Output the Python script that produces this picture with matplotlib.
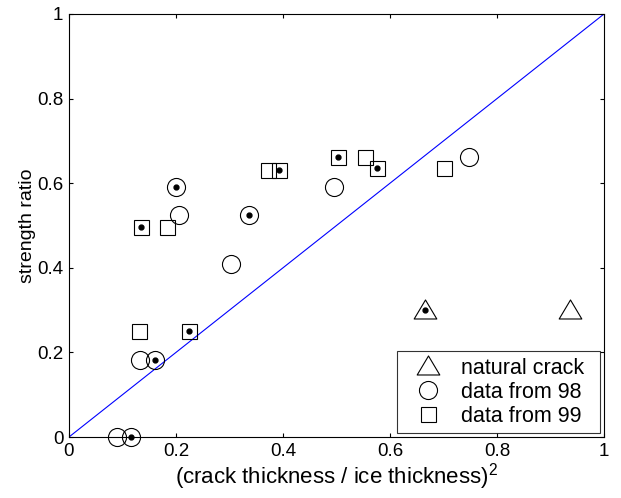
import matplotlib
matplotlib.use("Agg")
import matplotlib.pyplot as plt
from matplotlib.path import Path
import numpy as np

plt.rcParams['font.family'] = ['Liberation Sans', 'DejaVu Sans']
plt.rcParams['mathtext.fontset'] = 'custom'
plt.rcParams['mathtext.rm'] = 'Liberation Sans'

# natural crack
tri_x = [0.666, 0.937]
tri_y = [0.300, 0.300]
# data from 98
c98_x = [0.089, 0.116, 0.133, 0.161, 0.200, 0.205, 0.302, 0.336, 0.495, 0.747]
c98_y = [0.000, 0.000, 0.183, 0.183, 0.591, 0.526, 0.409, 0.526, 0.591, 0.663]
# data from 99
s99_x = [0.131, 0.225, 0.134, 0.184, 0.372, 0.393, 0.503, 0.554, 0.575, 0.700]
s99_y = [0.251, 0.251, 0.496, 0.496, 0.632, 0.632, 0.662, 0.662, 0.636, 0.636]
# dot markers
dot_x = [0.666, 0.116, 0.161, 0.200, 0.336, 0.225, 0.134, 0.393, 0.503, 0.575]
dot_y = [0.300, 0.000, 0.183, 0.591, 0.526, 0.251, 0.496, 0.632, 0.662, 0.636]
# reference line
line_x = [0, 1]
line_y = [0, 1]
ticks = [0, 0.2, 0.4, 0.6, 0.8, 1]
tick_labels = ['0', '0.2', '0.4', '0.6', '0.8', '1']

# MATLAB-like (wider) triangle marker
tri_marker = Path([(-1, -0.75), (1, -0.75), (0, 0.93), (-1, -0.75)],
                  [Path.MOVETO, Path.LINETO, Path.LINETO, Path.CLOSEPOLY])

fig = plt.figure(figsize=(6.21, 4.98), dpi=100)
ax = fig.add_axes([69/621, 1-437/498, 535/621, 423/498])

ax.plot(line_x, line_y, color=(0, 0, 1), lw=0.8, zorder=2)
lw = 0.8
h1, = ax.plot(tri_x, tri_y, ls='none', marker=tri_marker, ms=16.3, mfc='none', mec='k', mew=lw, label='natural crack', zorder=3)
h2, = ax.plot(c98_x, c98_y, ls='none', marker='o', ms=13, mfc='none', mec='k', mew=lw, label='data from 98', zorder=3, clip_on=False)
h3, = ax.plot(s99_x, s99_y, ls='none', marker='s', ms=10.8, mfc='none', mec='k', mew=lw, label='data from 99', zorder=3)
ax.plot(dot_x, dot_y, ls='none', marker='o', ms=3.5, mfc='k', mec='k', zorder=4, clip_on=False)

ax.set_xlim(0, 1)
ax.set_ylim(0, 1)
ax.set_xticks(ticks)
ax.set_xticklabels(tick_labels)
ax.set_yticks(ticks)
ax.set_yticklabels(tick_labels)
ax.tick_params(direction='in', length=3, width=0.8, top=True, right=True, labelsize=13.5, pad=4)
for s in ax.spines.values():
    s.set_linewidth(0.8)

ax.set_xlabel('(crack thickness / ice thickness)$^2$', fontsize=16, labelpad=1)
ax.set_ylabel('strength ratio', fontsize=14, labelpad=1)

leg_x0 = (397 - 69) / 535
leg_w = (600 - 397) / 535
leg_y0 = (437 - 433) / 423
leg = ax.legend(handles=[h1, h2, h3], loc='lower left', mode='expand',
                bbox_to_anchor=(leg_x0, leg_y0, leg_w, 0.2),
                borderaxespad=0, fontsize=15.5, fancybox=False, frameon=True,
                edgecolor='k', handlelength=2.28, handletextpad=0.4, borderpad=0.3,
                labelspacing=0.13, markerscale=1.0)
leg.get_frame().set_linewidth(0.8)

fig.savefig('out.png', dpi=100)
